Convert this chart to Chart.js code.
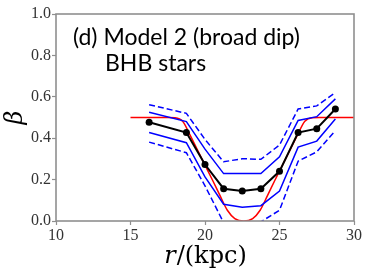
<!DOCTYPE html>
<html>
<head>
<meta charset="utf-8">
<script src="https://cdn.jsdelivr.net/npm/chart.js@4/dist/chart.umd.min.js"></script>
<style>
html,body{margin:0;padding:0;background:#fff;}
#wrap{width:370px;height:277px;position:relative;}
</style>
</head>
<body>
<div id="wrap"><canvas id="c" width="370" height="277"></canvas></div>
<script>
// ---- data ----
const radii = [16.25, 18.75, 20, 21.25, 22.5, 23.75, 25, 26.25, 27.5, 28.75];
const betaMean = [0.477, 0.427, 0.273, 0.156, 0.145, 0.156, 0.240, 0.427, 0.446, 0.541];
const betaUpper1 = [0.525, 0.480, 0.347, 0.229, 0.229, 0.229, 0.310, 0.486, 0.504, 0.590];
const betaLower1 = [0.428, 0.378, 0.213, 0.081, 0.067, 0.074, 0.145, 0.357, 0.386, 0.493];
const betaUpper2 = [0.562, 0.520, 0.394, 0.286, 0.301, 0.298, 0.367, 0.541, 0.556, 0.620];
const betaLower2 = [0.381, 0.330, 0.170, -0.008, -0.020, -0.004, 0.052, 0.289, 0.334, 0.436];
const trueR = [15, 17.5, 18, 18.5, 19, 19.5, 20, 20.5, 21, 21.5, 22, 22.6, 23.2, 23.7, 24.2, 24.7, 25.2, 25.7, 26.2, 26.7, 27.2, 27.7, 30];
const trueBeta = [0.5, 0.5, 0.499, 0.482, 0.415, 0.342, 0.27, 0.198, 0.124, 0.052, 0.012, 0.0, 0.012, 0.052, 0.124, 0.198, 0.27, 0.342, 0.415, 0.482, 0.499, 0.5, 0.5];
const xTicks = [10, 15, 20, 25, 30];
const yTicks = [0.0, 0.2, 0.4, 0.6, 0.8, 1.0];
const labelLine1 = "(d) Model 2 (broad dip)";
const labelLine2 = "BHB stars";
const xTitleItalic = "r";
const xTitleRest = "/(kpc)";
const yTitle = "β";

const pts = (xs, ys) => xs.map((x, i) => ({x: x, y: ys[i]}));

const frameColor = '#8f8f8f';

const extras = {
  id: 'extras',
  afterDraw(chart) {
    const ctx = chart.ctx;
    const a = chart.chartArea;
    ctx.save();
    // frame
    ctx.strokeStyle = frameColor;
    ctx.lineWidth = 1.6;
    ctx.strokeRect(a.left, a.top, a.right - a.left, a.bottom - a.top);
    // annotation
    ctx.fillStyle = '#000';
    ctx.font = '23px Lato';
    ctx.textBaseline = 'alphabetic';
    ctx.textAlign = 'left';
    ctx.fillText(labelLine1, 73, 45);
    ctx.fillText(labelLine2, 105, 71);
    // x title
    ctx.font = 'italic 24px "DejaVu Serif"';
    const w1 = ctx.measureText(xTitleItalic).width;
    ctx.font = '24px "DejaVu Serif"';
    const w2 = ctx.measureText(xTitleRest).width;
    const cx = (a.left + a.right) / 2;
    let x0 = cx - (w1 + w2) / 2;
    ctx.font = 'italic 24px "DejaVu Serif"';
    ctx.fillText(xTitleItalic, x0, 263);
    ctx.font = '24px "DejaVu Serif"';
    ctx.fillText(xTitleRest, x0 + w1 + 1, 263);
    // y title
    ctx.translate(22, (a.top + a.bottom) / 2);
    ctx.rotate(-Math.PI / 2);
    ctx.font = 'italic 24px "DejaVu Serif"';
    ctx.textAlign = 'center';
    ctx.fillText(yTitle, 0, 0);
    ctx.restore();
  }
};

new Chart(document.getElementById('c'), {
  type: 'scatter',
  data: {
    datasets: [
      {data: pts(trueR, trueBeta), showLine: true, borderColor: '#ff0000', borderWidth: 1.5, pointRadius: 0, cubicInterpolationMode: 'monotone', order: 3},
      {data: pts(radii, betaUpper2), showLine: true, borderColor: '#0000ff', borderWidth: 1.5, borderDash: [6, 3], pointRadius: 0, order: 2},
      {data: pts(radii, betaLower2), showLine: true, borderColor: '#0000ff', borderWidth: 1.5, borderDash: [6, 3], pointRadius: 0, order: 2},
      {data: pts(radii, betaUpper1), showLine: true, borderColor: '#0000ff', borderWidth: 1.5, pointRadius: 0, order: 2},
      {data: pts(radii, betaLower1), showLine: true, borderColor: '#0000ff', borderWidth: 1.5, pointRadius: 0, order: 2},
      {data: pts(radii, betaMean), showLine: true, borderColor: '#000', backgroundColor: '#000', borderWidth: 2, pointRadius: 3.5, pointBorderWidth: 0, order: 1}
    ]
  },
  options: {
    responsive: false,
    animation: false,
    devicePixelRatio: 1,
    layout: {padding: {top: 14, right: 16, left: 0, bottom: 0}},
    plugins: {legend: {display: false}, tooltip: {enabled: false}},
    scales: {
      x: {
        type: 'linear', min: 10, max: 30,
        afterBuildTicks: s => { s.ticks = xTicks.map(v => ({value: v})); },
        afterFit: s => { s.height = 56; },
        grid: {drawOnChartArea: false, drawTicks: true, tickLength: 4, color: frameColor, tickWidth: 1.2},
        border: {display: false},
        ticks: {color: '#333', padding: 1, font: {family: '"Liberation Serif"', size: 16}, callback: v => String(v)}
      },
      y: {
        type: 'linear', min: 0, max: 1,
        afterBuildTicks: s => { s.ticks = yTicks.map(v => ({value: v})); },
        afterFit: s => { s.width = 56; },
        grid: {drawOnChartArea: false, drawTicks: true, tickLength: 4, color: frameColor, tickWidth: 1.2},
        border: {display: false},
        ticks: {color: '#333', padding: 1, font: {family: '"Liberation Serif"', size: 16}, callback: v => v.toFixed(1)}
      }
    }
  },
  plugins: [extras]
});
</script>
</body>
</html>
